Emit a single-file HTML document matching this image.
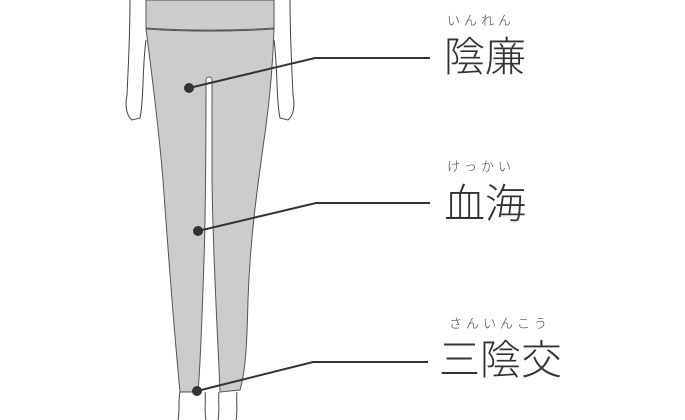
<!DOCTYPE html>
<html><head><meta charset="utf-8"><style>
body{margin:0;width:685px;height:420px;background:#fff;overflow:hidden;position:relative;font-family:"Liberation Sans","Noto Sans CJK JP",sans-serif;color:#333}
.k{position:absolute;font-size:41px;font-weight:300;line-height:1;white-space:nowrap}
.f{position:absolute;font-size:13px;font-weight:300;letter-spacing:4px;line-height:1;white-space:nowrap;color:#444}
</style></head><body>
<svg width="685" height="420" style="position:absolute;left:0;top:0">
<g fill="none" stroke="#444" stroke-width="1">
<path d="M130 0 C130 40 128 70 127 95 C125 105 126 115 132 120 L140 118 C144 100 142 70 146 40"/>
<path d="M290 0 C290 40 292 70 293 95 C295 105 294 115 288 120 L280 118 C276 100 278 70 274 40"/>
<path d="M180 392 C178 400 180 410 178 420 M205 392 C206 400 204 410 206 420 M219 392 C218 400 220 410 218 420 M237 392 C236 400 238 410 236 420"/>
</g>
<path d="M146 0 L274 0 L274 28 C230 31 190 31 146 28 Z" fill="#ccc" stroke="#555" stroke-width="1"/>
<path d="M146 29 C190 32 230 32 274 29 C273 60 270 100 264 140 C257 190 250 240 248 300 C247 340 246 370 240 390 L220 392 C218 340 213 260 212 180 C212 130 212 100 212 80 C212 76 206 76 206 80 C206 130 206 200 204 260 C202 320 200 370 198 392 L180 392 C175 340 168 250 163 180 C158 120 150 60 146 29 Z" fill="#ccc" stroke="#555" stroke-width="1"/>
<g stroke="#333" stroke-width="2" fill="none">
<polyline points="189,88 315,58 430,58"/>
<polyline points="198,231 316,203 430,203"/>
<polyline points="197,391 313,362 428,362"/>
</g>
<g fill="#333"><circle cx="189" cy="88" r="5"/><circle cx="198" cy="231" r="5"/><circle cx="197" cy="391" r="5"/></g>
</svg>
<div class="f" style="left:447px;top:14px">いんれん</div>
<div class="k" style="left:444px;top:37px">陰廉</div>
<div class="f" style="left:447px;top:160px">けっかい</div>
<div class="k" style="left:444px;top:184px">血海</div>
<div class="f" style="left:449px;top:317px">さんいんこう</div>
<div class="k" style="left:439px;top:340px">三陰交</div>
</body></html>
